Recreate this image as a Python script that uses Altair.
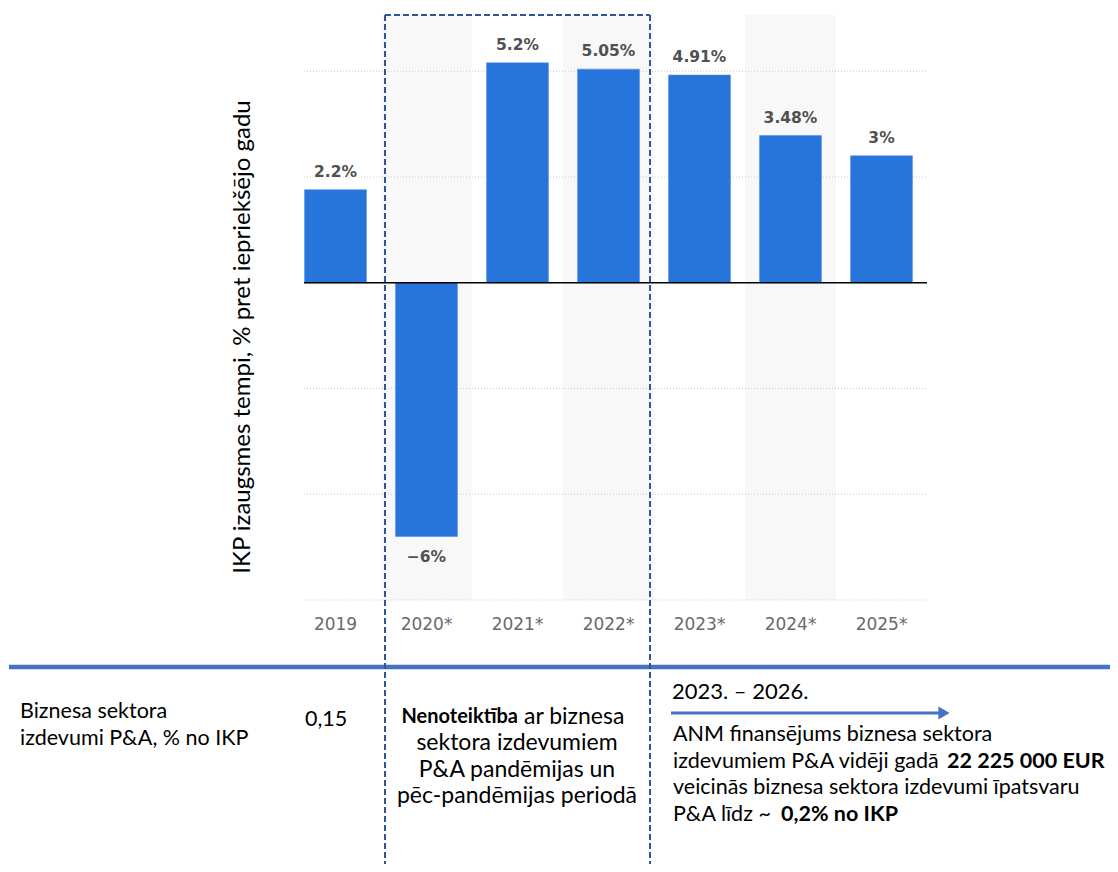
import altair as alt
import pandas as pd

# ---- data ----
years = ["2019", "2020*", "2021*", "2022*", "2023*", "2024*", "2025*"]
growth = [2.2, -6.0, 5.2, 5.05, 4.91, 3.48, 3.0]
shaded_years = ["2020*", "2022*", "2024*"]
grid_values = [-7.5, -5.0, -2.5, 2.5, 5.0]
y_title = "IKP izaugsmes tempi, % pret iepriekšējo gadu"

left_lines = ["Biznesa sektora", "izdevumi P&A, % no IKP"]
left_value = "0,15"
mid_bold = "Nenoteiktība"
mid_rest = "ar biznesa"
mid_lines = ["sektora izdevumiem", "P&A pandēmijas un", "pēc-pandēmijas periodā"]
period_label = "2023. – 2026."
right_lines = ["ANM finansējums biznesa sektora",
               "izdevumiem P&A vidēji gadā",
               "veicinās biznesa sektora izdevumi īpatsvaru",
               "P&A līdz  ~"]
right_bold = {1: "22 225 000 EUR", 3: "0,2% no IKP"}

def fmt(v):
    s = f"{v:g}%"
    return s.replace("-", "\u2212")

df = pd.DataFrame({"year": years, "value": growth, "label": [fmt(v) for v in growth]})
df["pos"] = df["value"] >= 0

# ---- layout (plot area origin on page = (290, 15)) ----
W, H = 637, 585
PAD_L, PAD_T = 282, 7
PAD_R = 1102 - PAD_L - W
PAD_B = 856 - PAD_T - H
OX, OY = 8 + PAD_L, 8 + PAD_T

def px(x):
    return x - OX

def py(y):
    return y - OY

FONT = "Lato"
BAR = "#2774DB"
BLUE = "#4472C4"
DASH = "#2F5597"
BODY = 21.5
MID = 23

x_enc = alt.X("year:N", sort=years,
              scale=alt.Scale(paddingInner=0.32, paddingOuter=0.16),
              axis=alt.Axis(title=None, ticks=False, domain=False, labelAngle=0,
                            labelColor="#6a6a6a", labelFontSize=17, labelFont="DejaVu Sans",
                            labelPadding=16))
y_scale = alt.Scale(domain=[-7.5, 6.33], nice=False, zero=False)

shade = alt.Chart(pd.DataFrame({"year": shaded_years})).mark_bar(
    color="#f8f8f8", width=91).encode(
    x=x_enc, y=alt.value(0), y2=alt.value(H))

grid = alt.Chart(pd.DataFrame({"v": grid_values})).mark_rule(
    color="#cccccc", strokeDash=[1, 2], strokeWidth=1).encode(
    y=alt.Y("v:Q", scale=y_scale, axis=None), x=alt.value(14), x2=alt.value(W))

bars = alt.Chart(df).mark_bar(color=BAR, stroke="#4a90f0", strokeWidth=0.6).encode(
    x=x_enc, y=alt.Y("value:Q", scale=y_scale, axis=None))

zero = alt.Chart(pd.DataFrame({"v": [0.0]})).mark_rule(
    color="#000000", strokeWidth=1.5).encode(
    y=alt.Y("v:Q", scale=y_scale), x=alt.value(14), x2=alt.value(W))

lab_pos = alt.Chart(df).transform_filter("datum.pos").mark_text(
    baseline="bottom", dy=-10, fontSize=15.5, fontWeight="bold", color="#505050",
    font="DejaVu Sans").encode(x=x_enc, y=alt.Y("value:Q", scale=y_scale), text="label:N")
lab_neg = alt.Chart(df).transform_filter("!datum.pos").mark_text(
    baseline="top", dy=13, fontSize=15.5, fontWeight="bold", color="#505050",
    font="DejaVu Sans").encode(x=x_enc, y=alt.Y("value:Q", scale=y_scale), text="label:N")

one = alt.Data(values=[{}])

def txt(s, x, y, size=BODY, bold=False, align="left", angle=None, color="#000000"):
    kw = dict(text=s, fontSize=size, font=FONT, align=align, baseline="middle",
              color=color, fontWeight="bold" if bold else "normal")
    if angle is not None:
        kw["angle"] = angle
    return alt.Chart(one).mark_text(**kw).encode(x=alt.value(x), y=alt.value(y))

def rule(x1, y1, x2, y2, color, width, dash=None):
    kw = dict(color=color, strokeWidth=width)
    if dash:
        kw["strokeDash"] = dash
    return alt.Chart(one).mark_rule(**kw).encode(
        x=alt.value(x1), x2=alt.value(x2), y=alt.value(y1), y2=alt.value(y2))

annot = []
annot.append(txt(y_title, px(243), py(337), size=24, align="center", angle=270))
# separator
annot.append(rule(px(9), py(667), px(1118), py(667), BLUE, 4.5))
# dashed box
annot.append(rule(px(385), py(15), px(650), py(15), DASH, 2, [6, 3]))
annot.append(rule(px(385), py(15), px(385), py(870), DASH, 2, [6, 3]))
annot.append(rule(px(650), py(15), px(650), py(870), DASH, 2, [6, 3]))
# left text
for i, s in enumerate(left_lines):
    annot.append(txt(s, px(20), py(712 + 27 * i)))
annot.append(txt(left_value, px(305), py(720)))
# middle text
annot.append(txt(mid_bold, px(518), py(717), size=20, bold=True, align="right"))
annot.append(txt(mid_rest, px(524), py(717), size=MID))
for i, s in enumerate(mid_lines):
    annot.append(txt(s, px(517), py(743 + 26.5 * i), size=MID, align="center"))
# right text
annot.append(txt(period_label, px(672), py(692), size=22))
annot.append(rule(px(671), py(713), px(940), py(713), BLUE, 3))
annot.append(alt.Chart(one).mark_point(shape="triangle-right", filled=True, color=BLUE,
                                       size=170, opacity=1).encode(
    x=alt.value(px(944)), y=alt.value(py(713))))
right_x_bold = {1: 947, 3: 781}
for i, s in enumerate(right_lines):
    y = py(735 + 26.7 * i)
    annot.append(txt(s, px(673), y))
    if i in right_bold:
        annot.append(txt(right_bold[i], px(right_x_bold[i]), y, bold=True))

chart = alt.layer(shade, grid, bars, zero, lab_pos, lab_neg, *annot).properties(
    width=W, height=H,
    autosize=alt.AutoSizeParams(type="none"),
    padding={"left": PAD_L, "top": PAD_T, "right": PAD_R, "bottom": PAD_B},
).configure_view(stroke=None)

chart.save("out.html", embed_options={"renderer": "svg", "actions": False})
